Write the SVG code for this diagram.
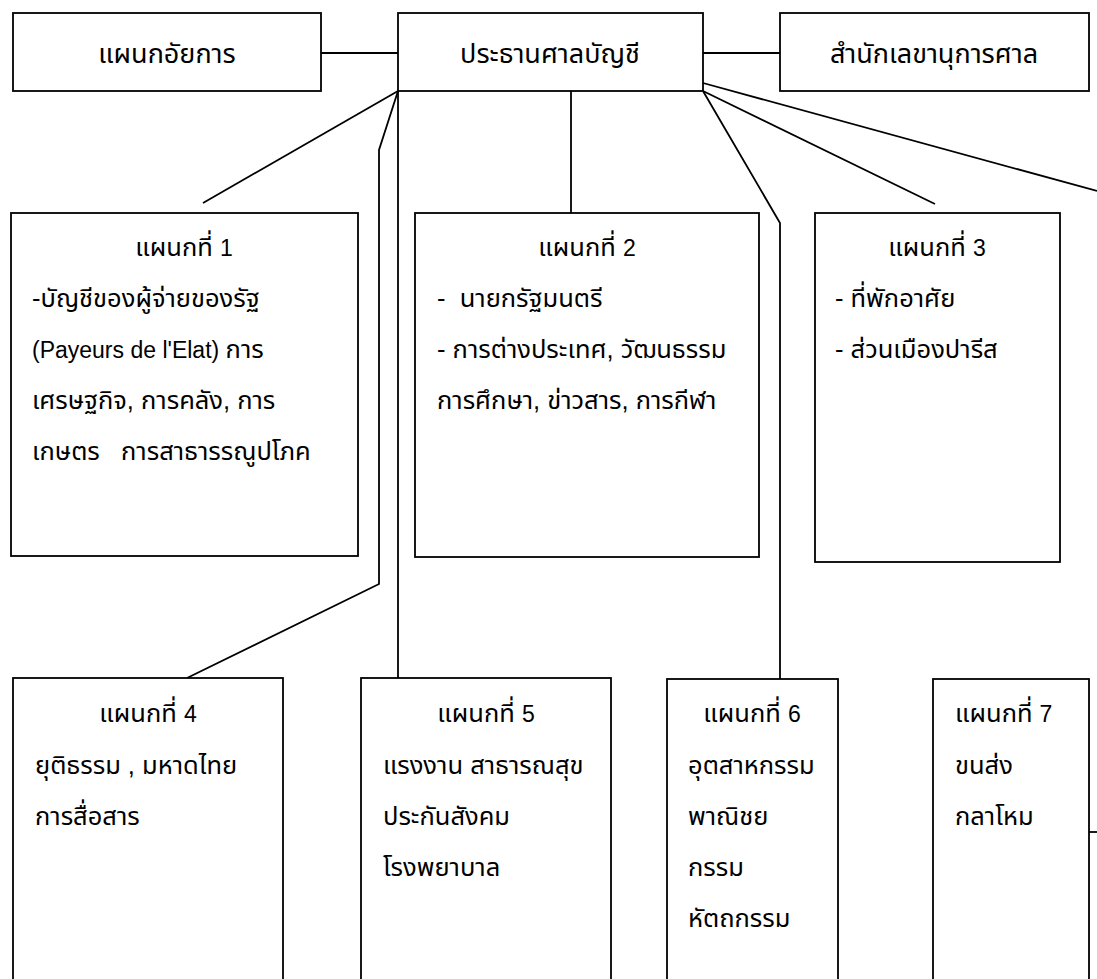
<svg xmlns="http://www.w3.org/2000/svg" width="1097" height="979" viewBox="0 0 1097 979">
<style>
.box{fill:#fff;stroke:#000;stroke-width:1.8}
.c{fill:none;stroke:#000;stroke-width:1.8}
text{font-family:"Liberation Sans","Noto Sans Thai","DejaVu Sans",sans-serif;font-size:25.5px;fill:#000;white-space:pre}
.m{text-anchor:middle}
.t{font-size:27px}
.l{font-size:23px}
</style>
<rect x="0" y="0" width="1097" height="979" fill="#fff"/>
<g id="connectors">
<line class="c" x1="321" y1="53" x2="398" y2="53"/>
<line class="c" x1="703" y1="53" x2="780" y2="53"/>
<line class="c" x1="398" y1="91" x2="203" y2="203"/>
<polyline class="c" points="398,91 379,150 379,584 187,678"/>
<line class="c" x1="398" y1="91" x2="398" y2="678"/>
<line class="c" x1="571" y1="91" x2="571" y2="213"/>
<polyline class="c" points="703,91 780,223 780,679"/>
<line class="c" x1="703" y1="91" x2="935" y2="204"/>
<line class="c" x1="703" y1="83" x2="1097" y2="191"/>
<line class="c" x1="1089" y1="832" x2="1097" y2="832"/>
</g>
<g id="n-prosecutor">
<rect class="box" x="13" y="13" width="308" height="78"/>
<text class="m t" x="167" y="63">แผนกอัยการ</text>
</g>
<g id="n-president">
<rect class="box" x="398" y="13" width="305" height="78"/>
<text class="m t" x="550" y="63">ประธานศาลบัญชี</text>
</g>
<g id="n-secretariat">
<rect class="box" x="780" y="13" width="309" height="78"/>
<text class="m t" x="934" y="63">สำนักเลขานุการศาล</text>
</g>
<g id="n-dept1">
<rect class="box" x="11" y="213" width="347" height="343"/>
<text class="m" x="184" y="256">แผนกที่ <tspan class="l">1</tspan></text>
<text x="32" y="307">-บัญชีของผู้จ่ายของรัฐ</text>
<text x="32" y="358"><tspan class="l">(Payeurs de l'Elat) </tspan>การ</text>
<text x="32" y="409">เศรษฐกิจ, การคลัง, การ</text>
<text x="32" y="460">เกษตร   การสาธารรณูปโภค</text>
</g>
<g id="n-dept2">
<rect class="box" x="415" y="213" width="344" height="344"/>
<text class="m" x="587" y="256">แผนกที่ <tspan class="l">2</tspan></text>
<text x="437" y="307">-  นายกรัฐมนตรี</text>
<text x="437" y="358">- การต่างประเทศ, วัฒนธรรม</text>
<text x="437" y="409">การศึกษา, ข่าวสาร, การกีฬา</text>
</g>
<g id="n-dept3">
<rect class="box" x="815" y="213" width="245" height="349"/>
<text class="m" x="937" y="256">แผนกที่ <tspan class="l">3</tspan></text>
<text x="835" y="307">- ที่พักอาศัย</text>
<text x="835" y="358">- ส่วนเมืองปารีส</text>
</g>
<g id="n-dept4">
<rect class="box" x="13" y="678" width="270" height="320"/>
<text class="m" x="148" y="722">แผนกที่ <tspan class="l">4</tspan></text>
<text x="35" y="774">ยุติธรรม , มหาดไทย</text>
<text x="35" y="825">การสื่อสาร</text>
</g>
<g id="n-dept5">
<rect class="box" x="361" y="678" width="250" height="320"/>
<text class="m" x="486" y="722">แผนกที่ <tspan class="l">5</tspan></text>
<text x="383" y="774">แรงงาน สาธารณสุข</text>
<text x="383" y="825">ประกันสังคม</text>
<text x="383" y="876">โรงพยาบาล</text>
</g>
<g id="n-dept6">
<rect class="box" x="667" y="679" width="171" height="320"/>
<text class="m" x="752" y="722">แผนกที่ <tspan class="l">6</tspan></text>
<text x="688" y="774">อุตสาหกรรม</text>
<text x="688" y="825">พาณิชย</text>
<text x="688" y="876">กรรม</text>
<text x="688" y="927">หัตถกรรม</text>
</g>
<g id="n-dept7">
<rect class="box" x="933" y="679" width="156" height="320"/>
<text x="955" y="722">แผนกที่ <tspan class="l">7</tspan></text>
<text x="955" y="774">ขนส่ง</text>
<text x="955" y="825">กลาโหม</text>
</g>
</svg>
